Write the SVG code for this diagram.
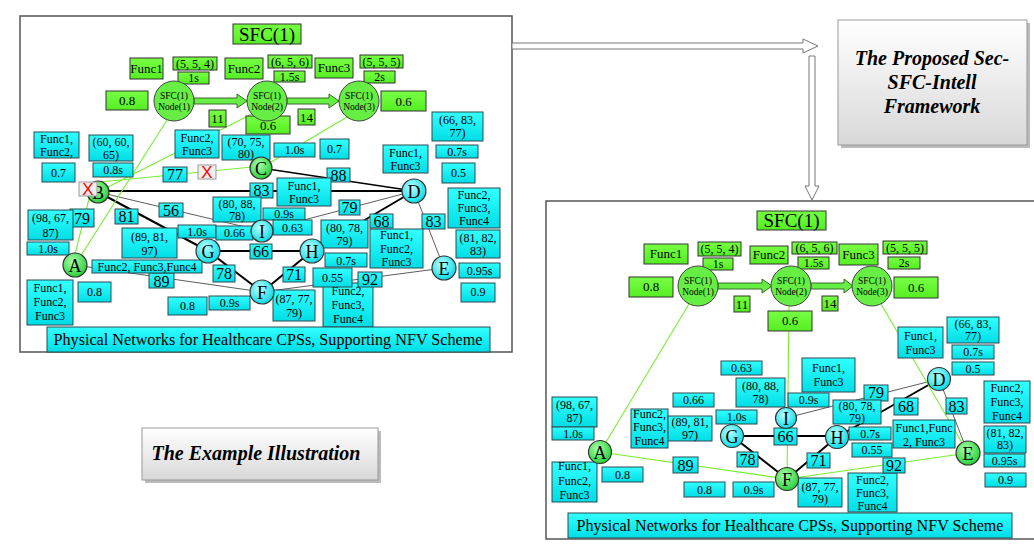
<svg xmlns="http://www.w3.org/2000/svg" width="1034" height="544" viewBox="0 0 1034 544">
<defs>
<linearGradient id="cy" x1="0" y1="0" x2="0" y2="1"><stop offset="0" stop-color="#3ff"/><stop offset="1" stop-color="#00dde6"/></linearGradient>
<linearGradient id="gr" x1="0" y1="0" x2="0" y2="1"><stop offset="0" stop-color="#77ff44"/><stop offset="1" stop-color="#55ee22"/></linearGradient>
<radialGradient id="cyc" cx="0.4" cy="0.35" r="0.7"><stop offset="0" stop-color="#bff"/><stop offset="1" stop-color="#00d8e4"/></radialGradient>
<radialGradient id="grc" cx="0.4" cy="0.35" r="0.7"><stop offset="0" stop-color="#aaffaa"/><stop offset="1" stop-color="#22cc33"/></radialGradient>
<linearGradient id="tb" x1="0" y1="0" x2="0" y2="1"><stop offset="0" stop-color="#fff"/><stop offset="1" stop-color="#d8d8d8"/></linearGradient>
</defs>
<style>
text{font-family:"Liberation Serif","Times New Roman",serif;fill:#000;text-anchor:middle}
.g{fill:url(#gr);stroke:#333;stroke-width:1}
.c{fill:url(#cy);stroke:#2b4a50;stroke-width:1}
.x{fill:#eee;stroke:#999;stroke-width:1}
.xt{fill:#f00;font-size:17px;font-family:"Liberation Sans",Arial,sans-serif}
.s12{font-size:12px}
.s13{font-size:13px}
.s16{font-size:16px}
.s19{font-size:19px}
.nd{font-size:18px}
.sn{font-size:9.5px}
.bk{stroke:#000;fill:none}
.th{stroke-width:2}
.tn{stroke-width:0.8;stroke:#333}
.gl{stroke:#77ee33;stroke-width:1.1;fill:none}
.cc{fill:url(#cyc);stroke:#333;stroke-width:1.2}
.gc{fill:url(#grc);stroke:#333;stroke-width:1.2}
.sfc{fill:#66ee44;stroke:#444;stroke-width:1}
.fa{fill:#66ee44;stroke:#3a6a2a;stroke-width:1}
.bi{font-weight:bold;font-style:italic;font-size:20px}
.ban{font-size:17px}
</style>
<rect width="1034" height="544" fill="#fff"/>

<!-- panels -->
<rect x="20" y="16" width="492" height="336" fill="#fff" stroke="#555" stroke-width="1.5"/>
<rect x="546" y="201" width="500" height="338" fill="#fff" stroke="#555" stroke-width="1.5"/>

<!-- big arrows -->
<g id="flow-arrows">
<polygon points="512,43 803,43 803,39 818,46 803,53 803,49 512,49" fill="#fff" stroke="#777" stroke-width="1"/>
<polygon points="809,56 815,56 815,186 819,186 812,200 805,186 809,186" fill="#fff" stroke="#777" stroke-width="1"/>
</g>

<!-- text boxes -->
<g id="proposed">
<rect x="841" y="23" width="189" height="125" fill="#bbb"/>
<rect x="838" y="20" width="189" height="125" fill="url(#tb)" stroke="#999"/>
<text class="bi" x="932" y="65">The Proposed Sec-</text>
<text class="bi" x="932" y="89">SFC-Intell</text>
<text class="bi" x="932" y="113">Framework</text>
</g>
<g id="example">
<rect x="145" y="431" width="236" height="52" fill="#bbb"/>
<rect x="142" y="428" width="236" height="52" fill="url(#tb)" stroke="#999"/>
<text class="bi" x="256" y="460">The Example Illustration</text>
</g>

<!-- ============ LEFT PANEL ============ -->
<g id="left-connectors">
<line class="bk th" x1="98" y1="191" x2="414" y2="191"/>
<line class="bk" stroke-width="1.5" x1="261" y1="168" x2="414" y2="191"/>
<line class="bk tn" x1="98" y1="192" x2="262" y2="231"/>
<line class="bk th" x1="98" y1="192" x2="208" y2="251"/>
<line class="bk tn" x1="262" y1="231" x2="414" y2="191"/>
<line class="bk th" x1="312" y1="251" x2="414" y2="191"/>
<line class="bk tn" x1="414" y1="191" x2="444" y2="268"/>
<line class="bk th" x1="208" y1="251" x2="312" y2="251"/>
<line class="bk th" x1="208" y1="251" x2="262" y2="292"/>
<line class="bk th" x1="312" y1="251" x2="262" y2="292"/>
<line class="bk tn" x1="75" y1="265" x2="262" y2="292"/>
<line class="bk tn" x1="262" y1="292" x2="444" y2="268"/>
<line class="gl" x1="167" y1="120" x2="75" y2="265"/>
<line class="gl" x1="252" y1="114" x2="98" y2="192"/>
<line class="gl" x1="347" y1="117" x2="261" y2="168"/>
<line class="gl" x1="90" y1="195" x2="73" y2="262"/>
<line class="gl" x1="252" y1="167" x2="100" y2="182"/>
<polygon class="fa" points="194,98 237,98 237,94 247,101 237,108 237,104 194,104"/>
<polygon class="fa" points="287,98 329,98 329,94 339,101 329,108 329,104 287,104"/>
</g>

<g id="L-sfc">
<rect class="g" x="233" y="24" width="68" height="20"/><text class="s19" x="267" y="41">SFC(1)</text>
<rect class="g" x="130" y="58" width="33" height="21"/><text class="s13" x="146.5" y="72.5">Func1</text>
<rect class="g" x="173" y="57" width="44" height="13"/><text class="s12" x="195" y="67.5">(5, 5, 4)</text>
<rect class="g" x="178" y="72" width="31" height="12"/><text class="s12" x="193.5" y="82">1s</text>
<rect class="g" x="225" y="58" width="38" height="21"/><text class="s13" x="244" y="72.5">Func2</text>
<rect class="g" x="268" y="55" width="44" height="13"/><text class="s12" x="290" y="65.5">(6, 5, 6)</text>
<rect class="g" x="274" y="71" width="31" height="11"/><text class="s12" x="289.5" y="80.5">1.5s</text>
<rect class="g" x="315" y="58" width="38" height="20"/><text class="s13" x="334" y="72">Func3</text>
<rect class="g" x="360" y="55" width="43" height="13"/><text class="s12" x="381.5" y="65.5">(5, 5, 5)</text>
<rect class="g" x="364" y="71" width="31" height="12"/><text class="s12" x="379.5" y="81">2s</text>
<rect class="g" x="106" y="91" width="42" height="19"/><text class="s13" x="127" y="105">0.8</text>
<rect class="g" x="381" y="91" width="45" height="20"/><text class="s13" x="403.5" y="105.5">0.6</text>
<rect class="g" x="246" y="116" width="44" height="18"/><text class="s13" x="268" y="129.5">0.6</text>
<rect class="g" x="209" y="110" width="17" height="17"/><text class="s13" x="217.5" y="123">11</text>
<rect class="g" x="298" y="109" width="17" height="16"/><text class="s13" x="306.5" y="121.5">14</text>
</g>
<g id="L-node1"><circle class="sfc" cx="174" cy="101" r="20"/><text class="sn" x="174" y="99">SFC(1)</text><text class="sn" x="174" y="110">Node(1)</text></g>
<g id="L-node2"><circle class="sfc" cx="267" cy="101" r="20"/><text class="sn" x="267" y="99">SFC(1)</text><text class="sn" x="267" y="110">Node(2)</text></g>
<g id="L-node3"><circle class="sfc" cx="359" cy="101" r="20"/><text class="sn" x="359" y="99">SFC(1)</text><text class="sn" x="359" y="110">Node(3)</text></g>

<g id="L-edge-labels">
<rect class="c" x="250" y="183" width="23" height="15"/><text class="s16" x="261.5" y="196">83</text>
<rect class="c" x="327" y="168" width="23" height="14"/><text class="s16" x="338.5" y="180.5">88</text>
<rect class="c" x="163" y="167" width="24" height="15"/><text class="s16" x="175" y="180">77</text>
<rect class="c" x="159" y="203" width="24" height="14"/><text class="s16" x="171" y="215.5">56</text>
<rect class="c" x="115" y="209" width="23" height="15"/><text class="s16" x="126.5" y="222">81</text>
<rect class="c" x="70" y="209" width="24" height="18"/><text class="s16" x="82" y="224">79</text>
<rect class="c" x="339" y="200" width="21" height="15"/><text class="s16" x="349.5" y="213">79</text>
<rect class="c" x="370" y="214" width="23" height="14"/><text class="s16" x="381.5" y="226.5">68</text>
<rect class="c" x="422" y="214" width="23" height="15"/><text class="s16" x="433.5" y="227">83</text>
<rect class="c" x="250" y="244" width="22" height="15"/><text class="s16" x="261" y="257">66</text>
<rect class="c" x="213" y="265" width="22" height="17"/><text class="s16" x="224" y="279">78</text>
<rect class="c" x="283" y="267" width="22" height="15"/><text class="s16" x="294" y="280">71</text>
<rect class="c" x="149" y="273" width="25" height="15"/><text class="s16" x="161.5" y="286.5">89</text>
</g>

<g id="L-labels">
<rect class="c" x="34" y="132" width="45" height="26"/><text class="s12" x="56.5" y="143">Func1,</text><text class="s12" x="56.5" y="156">Func2,</text>
<rect class="c" x="42" y="163" width="33" height="19"/><text class="s12" x="58.5" y="176.5">0.7</text>
<rect class="c" x="89" y="135" width="44" height="26"/><text class="s12" x="111" y="146">(60, 60,</text><text class="s12" x="111" y="159">65)</text>
<rect class="c" x="93" y="163" width="40" height="14"/><text class="s12" x="113" y="174">0.8s</text>
<rect class="c" x="175" y="130" width="44" height="28"/><text class="s12" x="197" y="142">Func2,</text><text class="s12" x="197" y="155">Func3</text>
<rect class="c" x="222" y="135" width="48" height="25"/><text class="s12" x="246" y="146">(70, 75,</text><text class="s12" x="246" y="158">80)</text>
<rect class="c" x="274" y="143" width="41" height="14"/><text class="s12" x="294.5" y="154">1.0s</text>
<rect class="c" x="320" y="139" width="29" height="20"/><text class="s12" x="334.5" y="153">0.7</text>
<rect class="c" x="432" y="112" width="51" height="29"/><text class="s12" x="457.5" y="124">(66, 83,</text><text class="s12" x="457.5" y="137">77)</text>
<rect class="c" x="436" y="145" width="42" height="13"/><text class="s12" x="457" y="155.5">0.7s</text>
<rect class="c" x="442" y="163" width="33" height="20"/><text class="s12" x="458.5" y="177">0.5</text>
<rect class="c" x="383" y="145" width="45" height="28"/><text class="s12" x="405.5" y="157">Func1,</text><text class="s12" x="405.5" y="170">Func3</text>
<rect class="c" x="277" y="178" width="54" height="28"/><text class="s12" x="304" y="190">Func1,</text><text class="s12" x="304" y="203">Func3</text>
<rect class="c" x="448" y="188" width="52" height="40"/><text class="s12" x="474" y="199">Func2,</text><text class="s12" x="474" y="212">Func3,</text><text class="s12" x="474" y="225">Func4</text>
<rect class="c" x="213" y="197" width="48" height="25"/><text class="s12" x="237" y="208">(80, 88,</text><text class="s12" x="237" y="220">78)</text>
<rect class="c" x="263" y="208" width="42" height="12"/><text class="s12" x="284" y="218">0.9s</text>
<rect class="c" x="273" y="220" width="39" height="15"/><text class="s12" x="292.5" y="231.5">0.63</text>
<rect class="c" x="178" y="225" width="38" height="13"/><text class="s12" x="197" y="235.5">1.0s</text>
<rect class="c" x="216" y="226" width="37" height="14"/><text class="s12" x="234.5" y="237">0.66</text>
<rect class="c" x="321" y="220" width="47" height="28"/><text class="s12" x="344.5" y="232">(80, 78,</text><text class="s12" x="344.5" y="245">79)</text>
<rect class="c" x="370" y="229" width="53" height="39"/><text class="s12" x="396.5" y="239">Func1,</text><text class="s12" x="396.5" y="253">Func2,</text><text class="s12" x="396.5" y="266">Func3</text>
<rect class="c" x="456" y="230" width="44" height="28"/><text class="s12" x="478" y="242">(81, 82,</text><text class="s12" x="478" y="255">83)</text>
<rect class="c" x="459" y="263" width="41" height="15"/><text class="s12" x="479.5" y="274.5">0.95s</text>
<rect class="c" x="461" y="283" width="34" height="19"/><text class="s12" x="478" y="296">0.9</text>
<rect class="c" x="28" y="210" width="45" height="30"/><text class="s12" x="50.5" y="222">(98, 67,</text><text class="s12" x="50.5" y="237">87)</text>
<rect class="c" x="27" y="242" width="42" height="13"/><text class="s12" x="48" y="252.5">1.0s</text>
<rect class="c" x="122" y="228" width="55" height="30"/><text class="s12" x="149.5" y="241">(89, 81,</text><text class="s12" x="149.5" y="255">97)</text>
<rect class="c" x="92" y="260" width="110" height="13"/><text class="s12" x="147" y="270.5">Func2, Func3,Func4</text>
<rect class="c" x="27" y="280" width="46" height="45"/><text class="s12" x="50" y="292">Func1,</text><text class="s12" x="50" y="306">Func2,</text><text class="s12" x="50" y="320">Func3</text>
<rect class="c" x="78" y="282" width="33" height="20"/><text class="s12" x="94.5" y="296">0.8</text>
<rect class="c" x="168" y="297" width="39" height="18"/><text class="s12" x="187.5" y="310">0.8</text>
<rect class="c" x="209" y="296" width="41" height="14"/><text class="s12" x="229.5" y="307">0.9s</text>
<rect class="c" x="273" y="290" width="42" height="31"/><text class="s12" x="294" y="303">(87, 77,</text><text class="s12" x="294" y="317">79)</text>
<rect class="c" x="325" y="253" width="42" height="14"/><text class="s12" x="346" y="264.5">0.7s</text>
<rect class="c" x="323" y="283" width="50" height="44"/><text class="s12" x="348" y="295">Func2,</text><text class="s12" x="348" y="309">Func3,</text><text class="s12" x="348" y="323">Func4</text>
<rect class="c" x="313" y="268" width="39" height="19"/><text class="s12" x="332.5" y="281.5">0.55</text>
<rect class="c" x="358" y="272" width="24" height="15"/><text class="s16" x="370" y="285">92</text>
<rect class="c" x="47" y="327" width="443" height="25"/><text class="ban" x="268" y="345" textLength="429" lengthAdjust="spacingAndGlyphs">Physical Networks for Healthcare CPSs, Supporting NFV Scheme</text>
</g>
<g id="L-A"><circle class="gc" cx="75" cy="265" r="12"/><text class="nd" x="75" y="271.5">A</text></g>
<g id="L-B"><circle class="gc" cx="98" cy="192" r="11"/><text class="nd" x="98" y="198.5">B</text></g>
<g id="L-C"><circle class="gc" cx="261" cy="168" r="11"/><text class="nd" x="261" y="174.5">C</text></g>
<g id="L-D"><circle class="cc" cx="414" cy="191" r="12"/><text class="nd" x="414" y="197.5">D</text></g>
<g id="L-E"><circle class="cc" cx="444" cy="268" r="12"/><text class="nd" x="444" y="274.5">E</text></g>
<g id="L-F"><circle class="cc" cx="262" cy="292" r="12"/><text class="nd" x="262" y="298.5">F</text></g>
<g id="L-G"><circle class="cc" cx="208" cy="251" r="12"/><text class="nd" x="208" y="257.5">G</text></g>
<g id="L-H"><circle class="cc" cx="312" cy="251" r="12"/><text class="nd" x="312" y="257.5">H</text></g>
<g id="L-I"><circle class="cc" cx="262" cy="231" r="11"/><text class="nd" x="262" y="237.5">I</text></g>
<g id="L-fail">
<rect class="x" x="79" y="182" width="18" height="14"/><text class="xt" x="88" y="195">X</text>
<rect class="x" x="198" y="165" width="18" height="14"/><text class="xt" x="207" y="178">X</text>
</g>

<!-- ============ RIGHT PANEL ============ -->
<g id="right-connectors">
<line class="bk tn" x1="786" y1="418" x2="939" y2="379"/>
<line class="bk th" x1="837" y1="437" x2="939" y2="379"/>
<line class="bk tn" x1="939" y1="379" x2="968" y2="453"/>
<line class="bk th" x1="732" y1="436" x2="837" y2="436"/>
<line class="bk th" x1="732" y1="436" x2="787" y2="479"/>
<line class="bk th" x1="837" y1="437" x2="787" y2="479"/>
<line class="gl" x1="689" y1="304" x2="600" y2="452"/>
<line class="gl" x1="789" y1="306" x2="787" y2="479"/>
<line class="gl" x1="881" y1="304" x2="968" y2="453"/>
<line class="gl" x1="600" y1="452" x2="787" y2="479"/>
<line class="gl" x1="787" y1="479" x2="968" y2="453"/>
<polygon class="fa" points="718,283 762,283 762,279 772,286 762,293 762,289 718,289"/>
<polygon class="fa" points="811,283 844,283 844,279 853,286 844,293 844,289 811,289"/>
</g>
<g id="R-sfc">
<rect class="g" x="757" y="211" width="69" height="19"/><text class="s19" x="791.5" y="227">SFC(1)</text>
<rect class="g" x="644" y="244" width="44" height="20"/><text class="s13" x="666" y="258">Func1</text>
<rect class="g" x="698" y="242" width="43" height="14"/><text class="s12" x="719.5" y="252.5">(5, 5, 4)</text>
<rect class="g" x="703" y="258" width="30" height="12"/><text class="s12" x="718" y="268">1s</text>
<rect class="g" x="750" y="246" width="38" height="18"/><text class="s13" x="769" y="259">Func2</text>
<rect class="g" x="792" y="242" width="45" height="12"/><text class="s12" x="814.5" y="252">(6, 5, 6)</text>
<rect class="g" x="798" y="257" width="31" height="12"/><text class="s12" x="813.5" y="267">1.5s</text>
<rect class="g" x="839" y="244" width="39" height="21"/><text class="s13" x="858.5" y="258.5">Func3</text>
<rect class="g" x="883" y="241" width="44" height="13"/><text class="s12" x="905" y="251.5">(5, 5, 5)</text>
<rect class="g" x="888" y="257" width="32" height="12"/><text class="s12" x="904" y="267">2s</text>
<rect class="g" x="629" y="277" width="44" height="20"/><text class="s13" x="651" y="291">0.8</text>
<rect class="g" x="894" y="277" width="44" height="21"/><text class="s13" x="916" y="291.5">0.6</text>
<rect class="g" x="768" y="311" width="44" height="20"/><text class="s13" x="790" y="325">0.6</text>
<rect class="g" x="734" y="296" width="16" height="16"/><text class="s13" x="742" y="308.5">11</text>
<rect class="g" x="822" y="296" width="16" height="15"/><text class="s13" x="830" y="308">14</text>
</g>
<g id="R-node1"><circle class="sfc" cx="698" cy="286" r="20"/><text class="sn" x="698" y="284">SFC(1)</text><text class="sn" x="698" y="295">Node(1)</text></g>
<g id="R-node2"><circle class="sfc" cx="791" cy="286" r="20"/><text class="sn" x="791" y="284">SFC(1)</text><text class="sn" x="791" y="295">Node(2)</text></g>
<g id="R-node3"><circle class="sfc" cx="872" cy="286" r="20"/><text class="sn" x="872" y="284">SFC(1)</text><text class="sn" x="872" y="295">Node(3)</text></g>

<g id="R-edge-labels">
<rect class="c" x="864" y="385" width="24" height="16"/><text class="s16" x="876" y="398">79</text>
<rect class="c" x="894" y="398" width="24" height="17"/><text class="s16" x="906" y="412">68</text>
<rect class="c" x="946" y="398" width="21" height="16"/><text class="s16" x="956.5" y="411.5">83</text>
<rect class="c" x="807" y="453" width="23" height="15"/><text class="s16" x="818.5" y="466">71</text>
<rect class="c" x="774" y="428" width="23" height="17"/><text class="s16" x="785.5" y="442">66</text>
<rect class="c" x="737" y="452" width="21" height="15"/><text class="s16" x="747.5" y="465">78</text>
<rect class="c" x="673" y="457" width="25" height="16"/><text class="s16" x="685.5" y="470.5">89</text>
</g>
<g id="R-labels">
<rect class="c" x="898" y="327" width="45" height="31"/><text class="s12" x="920.5" y="340">Func1,</text><text class="s12" x="920.5" y="354">Func3</text>
<rect class="c" x="947" y="317" width="52" height="26"/><text class="s12" x="973" y="328">(66, 83,</text><text class="s12" x="973" y="340">77)</text>
<rect class="c" x="952" y="345" width="42" height="14"/><text class="s12" x="973" y="356">0.7s</text>
<rect class="c" x="952" y="362" width="42" height="13"/><text class="s12" x="973" y="372.5">0.5</text>
<rect class="c" x="984" y="381" width="46" height="42"/><text class="s12" x="1007" y="392">Func2,</text><text class="s12" x="1007" y="406">Func3,</text><text class="s12" x="1007" y="420">Func4</text>
<rect class="c" x="984" y="426" width="42" height="27"/><text class="s12" x="1005" y="437">(81, 82,</text><text class="s12" x="1005" y="449">83)</text>
<rect class="c" x="984" y="454" width="41" height="13"/><text class="s12" x="1004.5" y="464.5">0.95s</text>
<rect class="c" x="985" y="473" width="41" height="14"/><text class="s12" x="1005.5" y="484">0.9</text>
<rect class="c" x="802" y="358" width="53" height="34"/><text class="s12" x="828.5" y="372">Func1,</text><text class="s12" x="828.5" y="386">Func3</text>
<rect class="c" x="788" y="393" width="41" height="14"/><text class="s12" x="808.5" y="404">0.9s</text>
<rect class="c" x="833" y="400" width="48" height="24"/><text class="s12" x="857" y="410">(80, 78,</text><text class="s12" x="857" y="422">79)</text>
<rect class="c" x="893" y="420" width="62" height="28"/><text class="s12" x="924" y="432">Func1,Func</text><text class="s12" x="924" y="446">2, Func3</text>
<rect class="c" x="849" y="427" width="42" height="13"/><text class="s12" x="870" y="437.5">0.7s</text>
<rect class="c" x="848" y="473" width="49" height="39"/><text class="s12" x="872.5" y="484">Func2,</text><text class="s12" x="872.5" y="497">Func3,</text><text class="s12" x="872.5" y="510">Func4</text>
<rect class="c" x="852" y="443" width="40" height="14"/><text class="s12" x="872" y="454">0.55</text>
<rect class="c" x="883" y="458" width="22" height="15"/><text class="s16" x="894" y="471">92</text>
<rect class="c" x="798" y="478" width="44" height="29"/><text class="s12" x="820" y="491">(87, 77,</text><text class="s12" x="820" y="503">79)</text>
<rect class="c" x="721" y="361" width="41" height="14"/><text class="s12" x="741.5" y="372">0.63</text>
<rect class="c" x="736" y="378" width="49" height="29"/><text class="s12" x="760.5" y="390">(80, 88,</text><text class="s12" x="760.5" y="403">78)</text>
<rect class="c" x="673" y="393" width="41" height="14"/><text class="s12" x="693.5" y="404">0.66</text>
<rect class="c" x="716" y="410" width="41" height="14"/><text class="s12" x="736.5" y="421">1.0s</text>
<rect class="c" x="631" y="409" width="37" height="39"/><text class="s12" x="649.5" y="418">Func2,</text><text class="s12" x="649.5" y="431">Func3,</text><text class="s12" x="649.5" y="445">Func4</text>
<rect class="c" x="668" y="416" width="44" height="25"/><text class="s12" x="690" y="426">(89, 81,</text><text class="s12" x="690" y="439">97)</text>
<rect class="c" x="552" y="397" width="45" height="30"/><text class="s12" x="574.5" y="409">(98, 67,</text><text class="s12" x="574.5" y="422">87)</text>
<rect class="c" x="552" y="427" width="42" height="13"/><text class="s12" x="573" y="437.5">1.0s</text>
<rect class="c" x="552" y="462" width="45" height="40"/><text class="s12" x="574.5" y="470">Func1,</text><text class="s12" x="574.5" y="485">Func2,</text><text class="s12" x="574.5" y="499">Func3</text>
<rect class="c" x="602" y="467" width="41" height="15"/><text class="s12" x="622.5" y="478.5">0.8</text>
<rect class="c" x="684" y="482" width="41" height="15"/><text class="s12" x="704.5" y="493.5">0.8</text>
<rect class="c" x="733" y="482" width="41" height="15"/><text class="s12" x="753.5" y="493.5">0.9s</text>
<rect class="c" x="568" y="513" width="444" height="25"/><text class="ban" x="790" y="531" textLength="427" lengthAdjust="spacingAndGlyphs">Physical Networks for Healthcare CPSs, Supporting NFV Scheme</text>
</g>
<g id="R-A"><circle class="gc" cx="600" cy="452" r="11.5"/><text class="nd" x="600" y="458.5">A</text></g>
<g id="R-D"><circle class="cc" cx="939" cy="379" r="11.5"/><text class="nd" x="939" y="385.5">D</text></g>
<g id="R-E"><circle class="gc" cx="968" cy="453" r="12"/><text class="nd" x="968" y="459.5">E</text></g>
<g id="R-F"><circle class="gc" cx="787" cy="479" r="11.5"/><text class="nd" x="787" y="485.5">F</text></g>
<g id="R-G"><circle class="cc" cx="732" cy="436" r="11.5"/><text class="nd" x="732" y="442.5">G</text></g>
<g id="R-H"><circle class="cc" cx="837" cy="437" r="11.5"/><text class="nd" x="837" y="443.5">H</text></g>
<g id="R-I"><circle class="cc" cx="786" cy="418" r="10.5"/><text class="nd" x="786" y="424.5">I</text></g>
</svg>
